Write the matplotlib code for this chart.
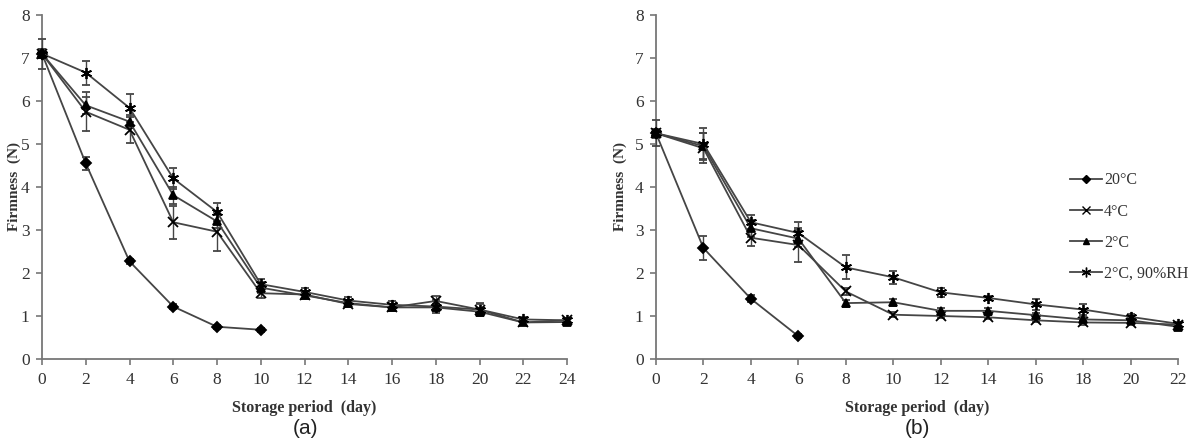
import numpy as np
import matplotlib
matplotlib.use("Agg")
import matplotlib.pyplot as plt
from matplotlib.lines import Line2D

# panel (a): storage days 0..24
days_a = [0, 2, 4, 6, 8, 10, 12, 14, 16, 18, 20, 22, 24]
days_a20 = [0, 2, 4, 6, 8, 10]
a_20c = [7.1, 4.55, 2.27, 1.22, 0.75, 0.68]
a_20c_err = [0.35, 0.15, 0.06, 0.05, 0.05, 0.05]
a_4c = [7.1, 5.75, 5.33, 3.18, 2.96, 1.53, 1.5, 1.28, 1.2, 1.35, 1.15, 0.85, 0.9]
a_4c_err = [0.1, 0.45, 0.3, 0.38, 0.45, 0.1, 0.08, 0.08, 0.08, 0.12, 0.12, 0.05, 0.05]
a_2c = [7.1, 5.9, 5.52, 3.81, 3.2, 1.66, 1.48, 1.3, 1.2, 1.2, 1.1, 0.85, 0.86]
a_2c_err = [0.1, 0.2, 0.15, 0.2, 0.15, 0.12, 0.08, 0.08, 0.08, 0.08, 0.08, 0.05, 0.05]
a_rh = [7.1, 6.66, 5.84, 4.2, 3.42, 1.74, 1.56, 1.36, 1.26, 1.22, 1.15, 0.92, 0.9]
a_rh_err = [0.1, 0.28, 0.33, 0.25, 0.2, 0.12, 0.08, 0.08, 0.08, 0.15, 0.15, 0.05, 0.05]

# panel (b): storage days 0..22
days_b = [0, 2, 4, 6, 8, 10, 12, 14, 16, 18, 20, 22]
days_b20 = [0, 2, 4, 6]
b_20c = [5.25, 2.58, 1.4, 0.53]
b_20c_err = [0.3, 0.28, 0.08, 0.05]
b_4c = [5.25, 4.9, 2.82, 2.65, 1.57, 1.03, 1.0, 0.97, 0.9, 0.85, 0.84, 0.8]
b_4c_err = [0.1, 0.35, 0.2, 0.4, 0.08, 0.06, 0.05, 0.05, 0.05, 0.05, 0.05, 0.05]
b_2c = [5.25, 4.95, 3.04, 2.8, 1.3, 1.32, 1.12, 1.12, 1.02, 0.92, 0.9, 0.75]
b_2c_err = [0.1, 0.3, 0.2, 0.2, 0.08, 0.08, 0.06, 0.06, 0.06, 0.06, 0.06, 0.05]
b_rh = [5.25, 5.0, 3.18, 2.93, 2.13, 1.9, 1.55, 1.42, 1.27, 1.15, 0.98, 0.82]
b_rh_err = [0.1, 0.38, 0.18, 0.25, 0.28, 0.15, 0.1, 0.05, 0.12, 0.12, 0.06, 0.05]

labels = ["20°C", "4°C", "2°C", "2°C, 90%RH"]
markers = ["D", "x", "^", (6, 2, 0)]
msizes = [5, 7, 6, 8]

line_col = "#454545"
serif = ["Liberation Serif", "DejaVu Serif"]

fig = plt.figure(figsize=(11.97, 4.41), dpi=100)
ax_a = fig.add_axes([42 / 1197, 82 / 441, 525 / 1197, 344 / 441])
ax_b = fig.add_axes([656 / 1197, 82 / 441, 522 / 1197, 344 / 441])


def draw(ax, xs_list, ys_list, errs_list, ylab_x):
    for i in range(4):
        h = ax.errorbar(xs_list[i], ys_list[i], yerr=errs_list[i], color=line_col, lw=1.3,
                        marker=markers[i], ms=msizes[i], mfc="black", mec="black", mew=1.3,
                        ecolor=line_col, elinewidth=1.0, capsize=3, capthick=1.0,
                        clip_on=False, zorder=3)
        for art in h.lines[1] + h.lines[2]:
            art.set_clip_on(False)
    ax.set_ylim(0, 8)
    ax.set_yticks(range(0, 9))
    for s in ["top", "right"]:
        ax.spines[s].set_visible(False)
    for s in ["left", "bottom"]:
        ax.spines[s].set_color("#777777")
        ax.spines[s].set_linewidth(1.3)
    ax.tick_params(direction="out", length=4, width=1.2, color="#777777",
                   labelsize=12.5, labelcolor="#333333", pad=5)
    ax.set_ylabel("Firmness  (N)", family=serif, fontweight="bold", fontsize=11,
                  color="#333333")
    ax.yaxis.set_label_coords(ylab_x, 0.5)
    ax.set_xlabel("Storage period  (day)", family=serif, fontweight="bold", fontsize=11.5,
                  color="#333333", labelpad=9)


draw(ax_a, [days_a20, days_a, days_a, days_a], [a_20c, a_4c, a_2c, a_rh],
     [a_20c_err, a_4c_err, a_2c_err, a_rh_err], -0.04)
ax_a.set_xlim(0, 24)
ax_a.set_xticks(range(0, 25, 2))
for t in ax_a.get_xticklabels() + ax_a.get_yticklabels():
    t.set_family(serif)

draw(ax_b, [days_b20, days_b, days_b, days_b], [b_20c, b_4c, b_2c, b_rh],
     [b_20c_err, b_4c_err, b_2c_err, b_rh_err], -0.055)
ax_b.set_xlim(0, 22)
ax_b.set_xticks(range(0, 23, 2))
for t in ax_b.get_xticklabels() + ax_b.get_yticklabels():
    t.set_family(serif)

# legend handles without error bars
leg_h = [Line2D([], [], color=line_col, lw=1.3, marker=markers[i], ms=msizes[i] - 1,
                mfc="black", mec="black") for i in range(4)]
ax_b.legend(leg_h, labels, frameon=False, loc="upper left",
            bbox_to_anchor=(1064 / 1197, 1 - 166 / 441), bbox_transform=fig.transFigure,
            prop={"family": serif, "size": 11.5}, handlelength=2.0, handletextpad=0.1,
            labelspacing=0.95, borderaxespad=0, labelcolor="#333333")

fig.text(305 / 1197, 1 - 419 / 441, "(a)", ha="center", va="top", fontsize=15,
         family=["Liberation Sans", "DejaVu Sans"], color="#222222")
fig.text(917 / 1197, 1 - 419 / 441, "(b)", ha="center", va="top", fontsize=15,
         family=["Liberation Sans", "DejaVu Sans"], color="#222222")

fig.savefig("out.png", dpi=100)
